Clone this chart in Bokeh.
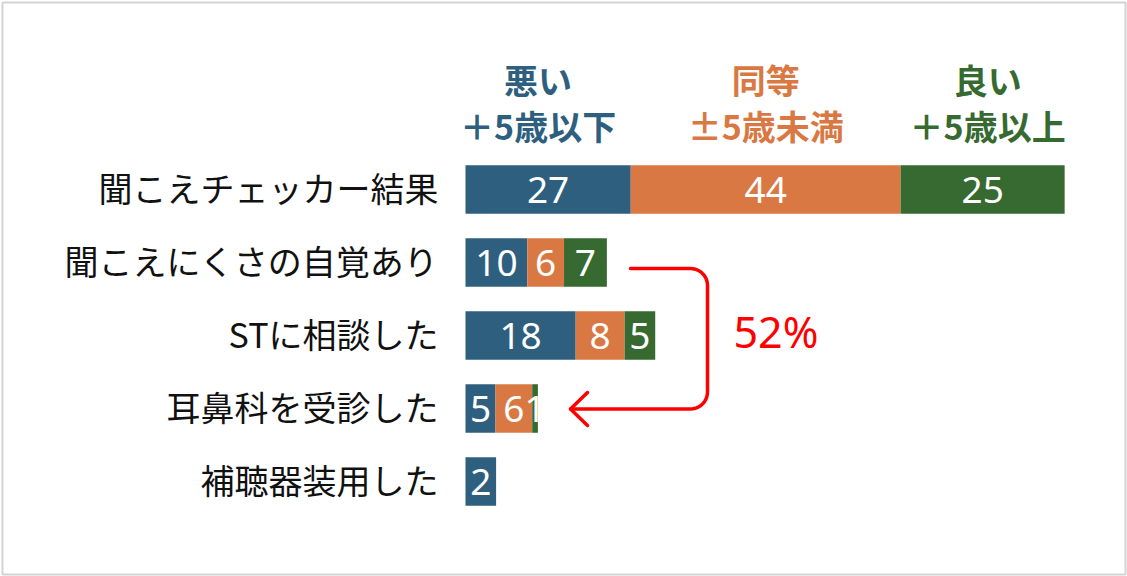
import numpy as np
from bokeh.plotting import figure
from bokeh.models import Range1d, ColumnDataSource
from bokeh.core.properties import value
from bokeh.embed import file_html
from bokeh.resources import INLINE

# ---------------- data ----------------
categories = ["聞こえチェッカー結果", "聞こえにくさの自覚あり", "STに相談した",
              "耳鼻科を受診した", "補聴器装用した"]
# bar lengths as drawn
bad_len = [27.0, 10.1, 18.0, 4.9, 5.0]
same_len = [44.1, 6.0, 8.0, 6.0, 0.0]
good_len = [26.8, 7.0, 5.0, 0.93, 0.0]
# value labels shown in the bars
bad_lab = ["27", "10", "18", "5", "2"]
same_lab = ["44", "6", "8", "6", ""]
good_lab = ["25", "7", "5", "1", ""]

series_names = ["悪い", "同等", "良い"]
series_sub = ["＋5歳以下", "±5歳未満", "＋5歳以上"]
colors = ["#2e5f7f", "#d97843", "#366a30"]
note_text = "52%"

# ---------------- layout constants ----------------
W, H = 1127, 576
B = 2                      # inner border
X0, S = 465.0, 6.12        # px of value 0, px per unit
Y0, ROW = 189.0, 73.0      # px of first row centre, px per row

def ux(px):
    return (px - X0) / S

def uy(py):
    return (py - Y0) / ROW

p = figure(width=W, height=H, output_backend="svg", toolbar_location=None,
           x_axis_type=None, y_axis_type=None,
           x_range=Range1d(ux(B), ux(W - B)),
           y_range=Range1d(uy(H - B), uy(B)),
           min_border_left=B, min_border_right=B, min_border_top=B, min_border_bottom=B)
p.grid.visible = False
p.background_fill_color = "white"
p.border_fill_color = "white"
p.outline_line_color = "#d4d4d4"
p.outline_line_width = 2

rows = np.arange(len(categories))
lens = [np.array(bad_len), np.array(same_len), np.array(good_len)]
labs = [bad_lab, same_lab, good_lab]
left = np.zeros(len(categories))
mids_first = []
for k in range(3):
    right = left + lens[k]
    mask = lens[k] > 0
    src = ColumnDataSource(dict(y=rows[mask], l=left[mask], r=right[mask]))
    p.hbar(y="y", left="l", right="r", height=0.665, source=src,
           fill_color=colors[k], line_color=colors[k], line_width=0)
    mid = (left + right) / 2
    mids_first.append(mid[0])
    tmask = np.array([t != "" for t in labs[k]])
    tsrc = ColumnDataSource(dict(x=mid[tmask], y=rows[tmask],
                                 t=[t for t in labs[k] if t != ""]))
    p.text(x="x", y="y", text="t", source=tsrc, text_color="white",
           text_align="center", text_baseline="middle",
           text_font=value("Noto Sans"), text_font_size="37px")
    left = right

# category labels
csrc = ColumnDataSource(dict(x=np.zeros(len(categories)), y=rows, t=categories))
p.text(x="x", y="y", text="t", source=csrc, x_offset=-27, y_offset=-2,
       text_align="right", text_baseline="middle", text_color="#111111",
       text_font=value("Noto Sans CJK JP"), text_font_size="34px")

# series headers above first bar
nudges = [-10, 0, 5]
for k in range(3):
    hx = mids_first[k] + nudges[k] / S
    p.text(x=[hx], y=[uy(79)], text=[series_names[k]], text_align="center",
           text_baseline="middle", text_color=colors[k],
           text_font=value("Noto Sans CJK JP"), text_font_style="bold",
           text_font_size="34px")
    p.text(x=[hx], y=[uy(125)], text=[series_sub[k]], text_align="center",
           text_baseline="middle", text_color=colors[k],
           text_font=value("Noto Sans CJK JP"), text_font_style="bold",
           text_font_size="34px")

# red bracket arrow
r = 17.0
xs_px, ys_px = [630.0], [268.0]
xv = 707.0
th = np.linspace(-np.pi / 2, 0, 12)
xs_px += list(xv - r + r * np.cos(th)); ys_px += list(268 + r + r * np.sin(th))
th = np.linspace(0, np.pi / 2, 12)
xs_px += list(xv - r + r * np.cos(th)); ys_px += list(408.5 - r + r * np.sin(th))
xs_px += [570.0]; ys_px += [408.5]
p.line([ux(v) for v in xs_px], [uy(v) for v in ys_px], line_color="#ff0000",
       line_width=3.5, line_join="round", line_cap="round")
p.line([ux(587), ux(570), ux(587)], [uy(392), uy(408.5), uy(425)],
       line_color="#ff0000", line_width=3.5, line_join="round", line_cap="round")

p.text(x=[ux(733)], y=[uy(331)], text=[note_text], text_align="left",
       text_baseline="middle", text_color="#ff0000",
       text_font=value("Noto Sans"), text_font_size="43px")

html = file_html(p, INLINE, title="chart")
html = html.replace("<head>",
                    "<head><style>html,body{margin:0;padding:0;overflow:hidden;background:#fff}</style>", 1)
open("out.html", "w").write(html)
